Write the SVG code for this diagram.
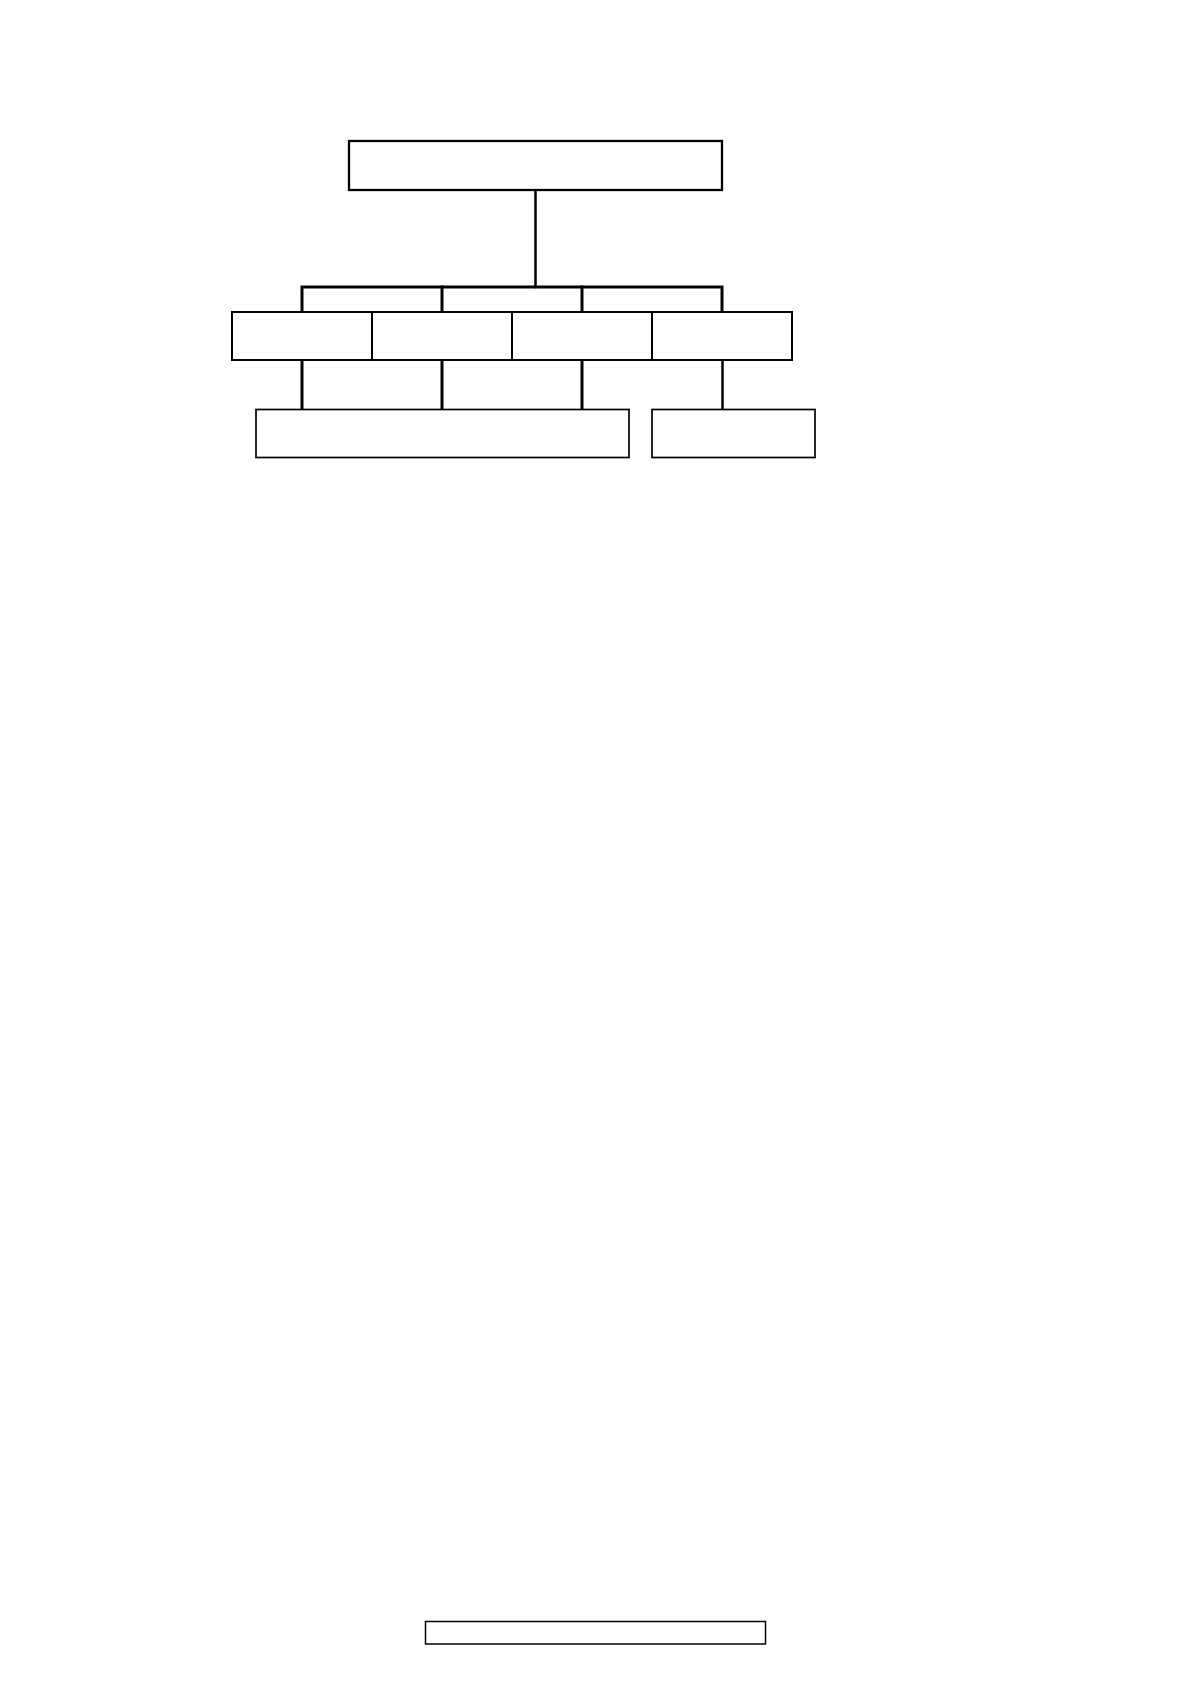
<svg xmlns="http://www.w3.org/2000/svg" width="1190" height="1684" viewBox="0 0 1190 1684">
<style>
.box{fill:#fff;stroke:#000;stroke-width:2}
.thin{fill:#fff;stroke:#000;stroke-width:1.7}
.con{fill:none;stroke:#000;stroke-width:3;stroke-linecap:square}
</style>
<rect width="1190" height="1684" fill="#fff"/>
<g id="connectors">
<line class="con" x1="535.5" y1="190" x2="535.5" y2="287" style="stroke-width:2.5"/>
<polyline class="con" points="302,312 302,287 722,287 722,312"/>
<line class="con" x1="442" y1="287" x2="442" y2="312"/>
<line class="con" x1="582" y1="287" x2="582" y2="312"/>
<line class="con" x1="302" y1="360" x2="302" y2="409"/>
<line class="con" x1="442" y1="360" x2="442" y2="409"/>
<line class="con" x1="582" y1="360" x2="582" y2="409"/>
<line class="con" x1="722.5" y1="360" x2="722.5" y2="409" style="stroke-width:2.5"/>
</g>
<g id="top"><rect class="box" x="349" y="141" width="373" height="49" style="stroke-width:2.3"/></g>
<g id="row1"><rect class="box" x="232" y="312" width="140" height="48"/></g>
<g id="row2"><rect class="box" x="372" y="312" width="140" height="48"/></g>
<g id="row3"><rect class="box" x="512" y="312" width="140" height="48"/></g>
<g id="row4"><rect class="box" x="652" y="312" width="140" height="48"/></g>
<g id="bottomLeft"><rect class="thin" x="256" y="409.5" width="373" height="48"/></g>
<g id="bottomRight"><rect class="thin" x="652" y="409.5" width="163" height="48"/></g>
<g id="footer"><rect class="thin" x="425.5" y="1621.5" width="340" height="22.5" style="stroke-width:1.5"/></g>
</svg>
